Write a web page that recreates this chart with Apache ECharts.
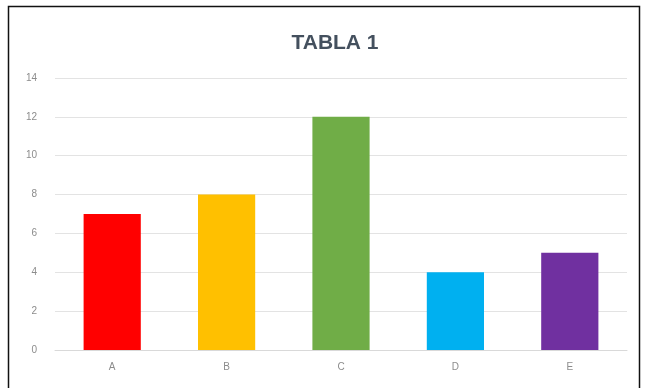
<!DOCTYPE html>
<html><head><meta charset="utf-8">
<script src="https://cdn.jsdelivr.net/npm/echarts@6/dist/echarts.min.js"></script>
<style>html,body{margin:0;padding:0;background:#fff}#c{width:648px;height:388px}</style>
</head><body><div id="c"></div>
<script>
const categories = ['A','B','C','D','E'];
const values = [7, 8, 12, 4, 5];
const colors = ['#ff0000','#ffc000','#70ad47','#00b0f0','#7030a0'];
const title = 'TABLA 1';

const chart = echarts.init(document.getElementById('c'));
chart.setOption({
  animation: false,
  title: {text: title, left: 330, textAlign: 'center', top: 28, textStyle: {fontFamily: 'Liberation Sans', fontSize: 21, fontWeight: 'bold', color: '#44505e'}},
  graphic: [{type: 'rect', shape: {x: 8.5, y: 6.5, width: 631, height: 390}, style: {fill: 'none', stroke: '#111', lineWidth: 1.5}}],
  grid: {left: 55, right: 21, top: 78, bottom: 38},
  xAxis: {type: 'category', data: categories,
    axisLine: {lineStyle: {color: '#d9d9d9'}}, axisTick: {show: false},
    axisLabel: {color: '#8c8c8c', fontSize: 10, margin: 12}},
  yAxis: {type: 'value', min: 0, max: 14, interval: 2,
    axisLine: {show: false}, axisTick: {show: false},
    axisLabel: {color: '#8c8c8c', fontSize: 10, margin: 18},
    splitLine: {lineStyle: {color: '#e3e3e3'}}},
  series: [{type: 'bar', barWidth: '50%',
    data: values.map((v, i) => ({value: v, itemStyle: {color: colors[i]}}))}]
});
</script></body></html>
